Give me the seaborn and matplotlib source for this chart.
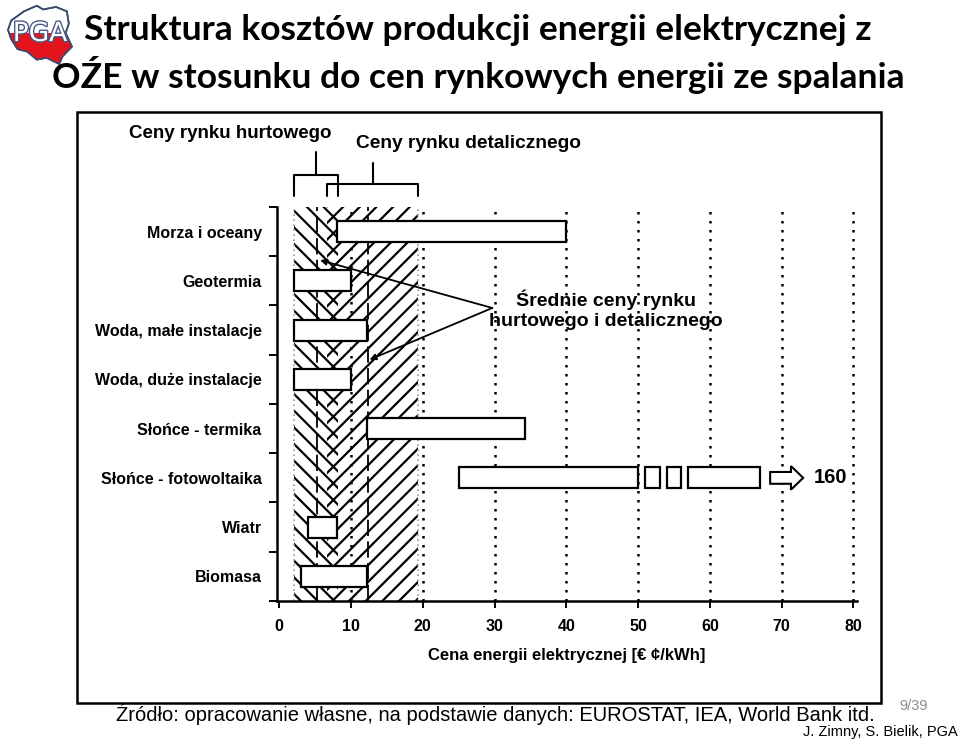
import numpy as np
import pandas as pd
import matplotlib
matplotlib.use("Agg")
import matplotlib.pyplot as plt
import matplotlib.patheffects as pe
import seaborn as sns
from matplotlib.patches import Polygon, Rectangle, FancyArrow

# ---------------- data ----------------
categories = ["Morza i oceany", "Geotermia", "Woda, małe instalacje", "Woda, duże instalacje",
              "Słońce - termika", "Słońce - fotowoltaika", "Wiatr", "Biomasa"]
cost_low = [8.0, 2.0, 2.0, 2.0, 12.3, 25.0, 4.0, 3.0]
cost_high = [40.0, 10.0, 12.3, 10.0, 34.2, 50.0, 8.0, 12.3]
pv_extra_low = [51.0, 54.0, 57.0]
pv_extra_high = [53.0, 56.0, 67.0]
pv_arrow = [68.4, 73.0]
pv_max_label = "160"
wholesale_band = [2.0, 8.2]
retail_band = [6.7, 19.4]
wholesale_avg = 5.3
retail_avg = 12.4
x_ticks = [0, 10, 20, 30, 40, 50, 60, 70, 80]

W, H = 960, 742

def fx(x):
    return x / W

def fy(y):
    return 1 - y / H

sns.set_theme(style="white")
plt.rcParams['font.family'] = ['Liberation Sans', 'DejaVu Sans']
plt.rcParams['hatch.linewidth'] = 1.6
for k in ['text.color', 'axes.labelcolor', 'xtick.color', 'ytick.color']:
    plt.rcParams[k] = 'black'

fig = plt.figure(figsize=(9.6, 7.42), dpi=100)
fig.patch.set_facecolor("white")
ax = fig.add_axes([fx(277), fy(601), fx(857) - fx(277), fy(207) - fy(601)])
ax.set_facecolor("none")

df = pd.DataFrame({"category": categories, "low": cost_low, "high": cost_high})
df["width"] = df["high"] - df["low"]

sns.barplot(data=df, y="category", x="width", order=categories, left=df["low"].values,
            color="white", edgecolor="black", linewidth=1.6, width=0.43,
            errorbar=None, zorder=4, ax=ax)

pv_idx = categories.index("Słońce - fotowoltaika")
ax.barh([pv_idx] * len(pv_extra_low), np.array(pv_extra_high) - np.array(pv_extra_low),
        left=pv_extra_low, height=0.43, color="white", edgecolor="black", linewidth=1.6, zorder=4)
ax.add_patch(FancyArrow(pv_arrow[0], pv_idx, pv_arrow[1] - pv_arrow[0], 0, width=0.24,
                        head_width=0.48, head_length=1.7, length_includes_head=True,
                        fc="white", ec="black", lw=1.5, zorder=4))
ax.text(pv_arrow[1] + 1.5, pv_idx, pv_max_label, ha="left", va="center",
        fontsize=14.5, fontweight="bold")

# hatched bands
ax.axvspan(*wholesale_band, facecolor="none", edgecolor="black", hatch="\\\\", lw=0, zorder=1)
ax.axvspan(*retail_band, facecolor="none", edgecolor="black", hatch="//", lw=0, zorder=1)
for v in [wholesale_band[0], retail_band[1]]:
    ax.axvline(v, color="#9a9a9a", lw=1.2, ls=(0, (1, 2)), zorder=2)

# dotted grid
for v in x_ticks[1:]:
    ax.axvline(v, color="black", lw=1.8, ls=(0, (1, 2.6)), zorder=2)
ax.axvline(wholesale_avg, color="black", lw=1.3, ls=(0, (9, 3)), zorder=3)
ax.axvline(retail_avg, color="black", lw=1.3, ls=(0, (9, 3)), zorder=3)

ax.set_xlim(-0.3, 80.5)
ax.set_ylim(len(categories) - 0.5, -0.5)
ax.set_xticks(x_ticks)
ax.set_xticklabels([str(t) for t in x_ticks], fontsize=11.5, fontweight="bold")
ax.set_yticks(range(len(categories)))
ax.set_yticklabels(categories, fontsize=11.5, fontweight="bold")
ax.set_yticks(np.arange(-0.5, len(categories), 1.0), minor=True)
ax.tick_params(axis="y", which="major", length=0, pad=11)
ax.tick_params(axis="y", which="minor", length=6, width=1.4, direction="out", color="black", left=True)
ax.tick_params(axis="x", which="major", length=5, width=1.4, direction="out", color="black",
               bottom=True, pad=8)
ax.set_xlabel("Cena energii elektrycznej [€ ¢/kWh]", fontsize=12, fontweight="bold", labelpad=10)
ax.set_ylabel("")
for s in ["top", "right"]:
    ax.spines[s].set_visible(False)
for s in ["left", "bottom"]:
    ax.spines[s].set_color("black")
    ax.spines[s].set_linewidth(1.8)

# brackets above the bands
tr = ax.get_xaxis_transform()
for band, yh, ytop in [(wholesale_band, 1.081, 1.140), (retail_band, 1.058, 1.112)]:
    ax.plot([band[0], band[0], band[1], band[1]], [1.028, yh, yh, 1.028], color="black",
            lw=1.5, transform=tr, clip_on=False)
    mid = (band[0] + band[1]) / 2
    ax.plot([mid, mid], [yh, ytop], color="black", lw=1.5, transform=tr, clip_on=False)

fig.text(fx(230), fy(133), "Ceny rynku hurtowego", ha="center", va="center",
         fontsize=13.5, fontweight="bold")
fig.text(fx(468), fy(143), "Ceny rynku detalicznego", ha="center", va="center",
         fontsize=13.8, fontweight="bold")

# annotation
ax.text(45.5, 1.59, "Średnie ceny rynku\nhurtowego i detalicznego", ha="center", va="center",
        fontsize=14, fontweight="bold", linespacing=1.2)
for xy in [(5.7, 0.58), (12.6, 2.6)]:
    ax.annotate("", xy=xy, xytext=(29.7, 1.55),
                arrowprops=dict(arrowstyle="-|>", lw=1.3, color="black", mutation_scale=9,
                                shrinkA=0, shrinkB=0), zorder=5)

# frame around the chart
fig.add_artist(Rectangle((fx(77), fy(703)), fx(881) - fx(77), fy(112) - fy(703),
                         transform=fig.transFigure, fill=False, ec="black", lw=1.8))

# title
fig.text(fx(478), fy(30), "Struktura kosztów produkcji energii elektrycznej z", ha="center",
         va="center", fontsize=25.5, fontweight="bold", color="black", family=["Lato", "DejaVu Sans"])
fig.text(fx(478), fy(75), "OŹE w stosunku do cen rynkowych energii ze spalania", ha="center",
         va="center", fontsize=25.5, fontweight="bold", color="black", family=["Lato", "DejaVu Sans"])

# footer
fig.text(fx(495), fy(714), "Źródło: opracowanie własne, na podstawie danych: EUROSTAT, IEA, World Bank itd.",
         ha="center", va="center", fontsize=14.5)
fig.text(fx(914), fy(706), "9/39", ha="center", va="center", fontsize=10.5, color="#8c8c8c")
fig.text(fx(958), fy(732), "J. Zimny, S. Bielik, PGA", ha="right", va="center", fontsize=10.5)

# logo
pts = [(0.05, 0.30), (0.25, 0.15), (0.45, 0.06), (0.55, 0.12), (0.75, 0.08), (0.92, 0.15),
       (0.95, 0.35), (0.90, 0.50), (1.0, 0.72), (0.85, 0.88), (0.80, 1.0), (0.60, 0.90),
       (0.45, 0.93), (0.30, 0.80), (0.15, 0.76), (0.05, 0.60), (0.0, 0.45)]
lx0, ly0, lw_, lh_ = 8, 2, 64, 62
poly_xy = [(fx(lx0 + px * lw_), fy(ly0 + py * lh_)) for px, py in pts]
outline = Polygon(poly_xy, closed=True, transform=fig.transFigure, fc="white", ec="#3c4a6e", lw=1.2)
fig.add_artist(outline)
red = Rectangle((fx(lx0), fy(ly0 + lh_)), fx(lw_), fy(ly0 + 0.5 * lh_) - fy(ly0 + lh_),
                transform=fig.transFigure, fc="#e3141c", ec="none")
fig.add_artist(red)
red.set_clip_path(outline)
fig.add_artist(Polygon(poly_xy, closed=True, transform=fig.transFigure, fill=False, ec="#3c4a6e", lw=1.2))
fig.text(fx(40), fy(34), "PGA", ha="center", va="center", fontsize=19, color="white",
         family=["DejaVu Sans"], path_effects=[pe.withStroke(linewidth=2, foreground="#4a5a8a")])

fig.savefig("out.png", dpi=100, facecolor="white")
